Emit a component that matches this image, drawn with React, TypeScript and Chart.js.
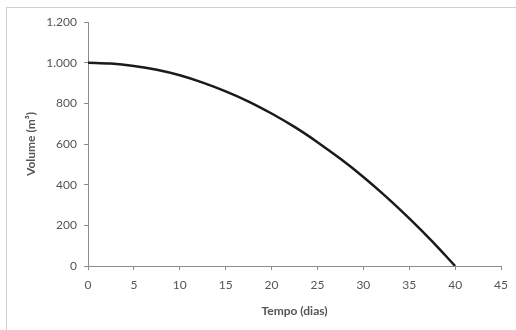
import React, { useEffect, useRef } from "react";
import { Chart, registerables } from "chart.js";

Chart.register(...registerables);

const days = [0, 2.5, 5, 7.5, 10, 12.5, 15, 17.5, 20, 22.5, 25, 27.5, 30, 32.5, 35, 37.5, 40];
const volume = [1000, 996, 984, 965, 938, 902, 859, 809, 750, 684, 609, 527, 438, 340, 234, 121, 0];
const xTicks = [0, 5, 10, 15, 20, 25, 30, 35, 40, 45];
const yTicks = [0, 200, 400, 600, 800, 1000, 1200];

const xTitle = "Tempo (dias)";
const yTitle = "Volume (m³)";

const FONT = "Lato, 'Open Sans', sans-serif";
const TEXT = "#555555";
const AXIS = "#8c8c8c";

function fmt(v: number) {
  return v.toString().replace(/\B(?=(\d{3})+(?!\d))/g, ".");
}

export default function App() {
  const ref = useRef<HTMLCanvasElement | null>(null);
  useEffect(() => {
    document.body.style.margin = "0";
    const ctx = ref.current!;
    const chart = new Chart(ctx, {
      type: "scatter",
      data: {
        datasets: [
          {
            data: days.map((d, i) => ({ x: d, y: volume[i] })),
            showLine: true,
            borderColor: "#1a1a1a",
            borderWidth: 2.5,
            pointRadius: 0,
            cubicInterpolationMode: "monotone",
            fill: false,
          },
        ],
      },
      options: {
        animation: false,
        responsive: false,
        maintainAspectRatio: false,
        layout: { padding: { left: 0, top: 22, right: 12, bottom: 0 } },
        plugins: { legend: { display: false }, tooltip: { enabled: false } },
        scales: {
          x: {
            type: "linear",
            min: 0,
            max: 45,
            afterBuildTicks: (s: any) => {
              s.ticks = xTicks.map((v) => ({ value: v }));
            },
            afterFit: (s: any) => {
              s.height = 64;
            },
            grid: {
              drawOnChartArea: false,
              drawTicks: true,
              tickLength: 4,
              color: AXIS,
            },
            border: { color: AXIS, width: 1 },
            ticks: {
              padding: 8,
              color: TEXT,
              font: { family: FONT, size: 12 },
              maxRotation: 0,
              callback: (v: any) => String(v),
            },
            title: {
              display: true,
              text: xTitle,
              color: TEXT,
              font: { family: FONT, size: 12, weight: "bold" },
              padding: { top: 12, bottom: 12 },
            },
          },
          y: {
            type: "linear",
            min: 0,
            max: 1200,
            afterBuildTicks: (s: any) => {
              s.ticks = yTicks.map((v) => ({ value: v }));
            },
            afterFit: (s: any) => {
              s.width = 88;
            },
            grid: {
              drawOnChartArea: false,
              drawTicks: true,
              tickLength: 4,
              color: AXIS,
            },
            border: { color: AXIS, width: 1 },
            ticks: {
              padding: 7,
              color: TEXT,
              font: { family: FONT, size: 12 },
              callback: (v: any) => fmt(Number(v)),
            },
            title: {
              display: true,
              text: yTitle,
              color: TEXT,
              font: { family: FONT, size: 12, weight: "bold" },
              padding: { top: 24, bottom: 0 },
            },
          },
        },
      },
    } as any);
    return () => chart.destroy();
  }, []);
  return (
    <div style={{ position: "relative", width: 516, height: 330, background: "#fff", overflow: "hidden" }}>
      <div
        style={{
          position: "absolute",
          left: 6,
          top: 7,
          width: 520,
          height: 340,
          border: "1px solid #d0d0d0",
          boxSizing: "border-box",
        }}
      />
      <canvas ref={ref} width={516} height={330} style={{ position: "absolute", left: 0, top: 0 }} />
    </div>
  );
}
